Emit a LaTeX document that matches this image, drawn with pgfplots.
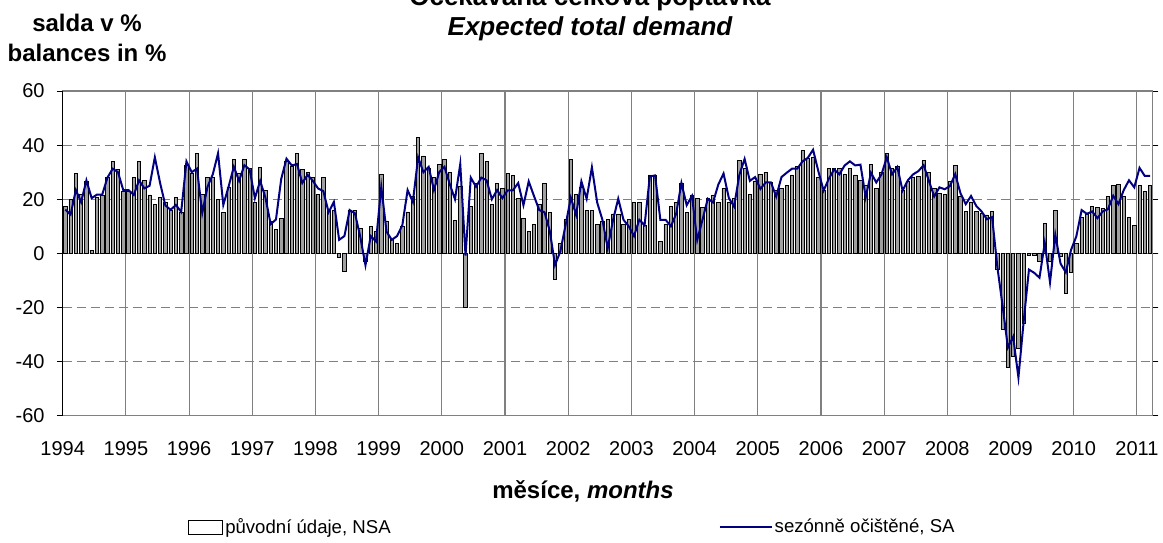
\documentclass[border=0pt]{standalone}
\usepackage{fontspec}
\setmainfont{Liberation Sans}
\usepackage{pgfplots}
\usepackage{pgfplotstable}
\pgfplotsset{compat=1.18}
\definecolor{navyline}{RGB}{0,0,128}
\definecolor{barfill}{RGB}{160,160,160}
\pgfplotstableread{
m nsa sa
0 17.3 16.2
1 20 14.3
2 29.7 23.4
3 21.8 18.9
4 26.7 27
5 1.2 20.4
6 20.6 21.7
7 21.6 21.7
8 28.2 28
9 34 31.3
10 31 30
11 23 23.4
12 23 23.4
13 28 21.6
14 34 27
15 27 24
16 21.6 25
17 18 35.5
18 20.8 26
19 18.8 17.7
20 16 16.1
21 20.8 17.9
22 15 15.3
23 32.7 34
24 29.7 30
25 37 31.3
26 21.8 14.9
27 28 24.6
28 28 29.2
29 20 37
30 15 17.9
31 24.5 24.6
32 34.8 32
33 29.7 26.8
34 34.8 32.6
35 31.3 31
36 18.8 20.4
37 31.8 26.8
38 23.3 20.6
39 12 10.8
40 9 12.5
41 13 27.5
42 34 35
43 32 32.5
44 37 33
45 31 26
46 30 29
47 28 26.8
48 21.7 24
49 28.2 23
50 15.9 15.2
51 15.9 19
52 -1.5 5
53 -6.5 6.4
54 16 16
55 16 14.8
56 9.2 6.2
57 -3 -4.4
58 10 6.4
59 8 4.4
60 29.2 24.6
61 12 8
62 5 5
63 3.8 6.4
64 10 10.4
65 15.3 23.4
66 21 19
67 43 35.5
68 36 30
69 31.6 32
70 28 23.4
71 33 30
72 34.8 32
73 30 25.6
74 12.2 20
75 24.6 33
76 -19.8 -0.8
77 17.3 28
78 26 24.6
79 37 28
80 34 27
81 18 20
82 26 23.4
83 24 20.4
84 29.6 23.3
85 28.8 23.3
86 20.2 26
87 13 17.8
88 8 26.6
89 10.7 21.2
90 18.2 16
91 26 15.2
92 15.2 8.3
93 -9.5 -4.3
94 3.7 0.7
95 12.4 10.4
96 34.8 20.6
97 21.8 14.2
98 24.5 26.6
99 16 20.2
100 16 31.8
101 10.7 18.8
102 12 12.4
103 12.4 1.9
104 14.6 12.2
105 14.6 20.2
106 10.7 12.4
107 12.4 10
108 18.8 6.4
109 18.8 12.4
110 10.4 10.4
111 29 28.4
112 28.8 28.8
113 4.3 12.4
114 10.7 12.4
115 17.2 10
116 18.8 14.6
117 26 26
118 15.2 17.8
119 21.6 21.2
120 20.2 4.9
121 17 12.4
122 20.2 20.2
123 21.6 18.8
124 18.8 25.4
125 24 29.5
126 19 20.5
127 20.4 17.3
128 34.3 29
129 31.3 34.9
130 21.7 26.8
131 26.8 28.2
132 29.2 23.8
133 30 26.2
134 26.2 26.2
135 23.2 21
136 24 28.2
137 25 29.8
138 29 31.3
139 32 31.3
140 37.9 34
141 35 35.3
142 35.6 38.3
143 28.2 30.4
144 23.4 23.2
145 31.3 27.6
146 31.3 31
147 31.3 29.2
148 29.2 32.5
149 31.3 34
150 29 32.5
151 27 32.8
152 25 20.7
153 32.8 29.8
154 24 26.2
155 29.8 29.2
156 37 35.5
157 31.3 29.2
158 32 31.9
159 23.4 23.2
160 26.8 27
161 28.2 29.2
162 28.5 30.4
163 34.3 32.6
164 30 26.8
165 24 21
166 22 24.4
167 21.7 23.7
168 26.5 24.9
169 32.4 29.3
170 21 22.2
171 15.5 18.2
172 19 21.2
173 15.5 17.5
174 14.8 15.5
175 14.2 12.6
176 15.5 13.4
177 -6 -5
178 -28 -19.5
179 -42 -34.8
180 -38 -30.8
181 -35 -45.9
182 -26 -25
183 -0.7 -6
184 -0.7 -7.2
185 -3 -9
186 11 3.8
187 -3 -10.7
188 16 6.9
189 -1 -3.8
190 -14.6 -7
191 -7.2 1.3
192 3.6 6.3
193 13.4 16
194 14.6 14.6
195 17.5 15.5
196 17 13
197 16.7 15.5
198 21.2 16.3
199 25 21.3
200 25.6 18.2
201 21.2 23.4
202 13.4 27
203 10.2 24.4
204 25 31.6
205 22.8 28.6
206 25 28.6
}\data
\begin{document}
\begin{tikzpicture}
\useasboundingbox (0,0) rectangle (581.5pt,-271pt);
\begin{axis}[
  at={(31.35pt,-207.85pt)}, anchor=south west,
  scale only axis, width=545pt, height=162.35pt,
  xmin=0, xmax=207, ymin=-60, ymax=60,
  clip=false,
  xtick={0,12,...,204},
  xticklabels={1994,1995,1996,1997,1998,1999,2000,2001,2002,2003,2004,2005,2006,2007,2008,2009,2010,2011},
  ytick={-60,-40,...,60},
  xmajorgrids, ymajorgrids,
  major x grid style={gray, line width=0.55pt},
  major y grid style={gray, dash pattern=on 4.5pt off 2.5pt, line width=0.55pt},
  extra y ticks={0}, extra y tick labels={},
  extra y tick style={grid=major, major grid style={black, solid, line width=0.6pt}},
  axis line style={gray, line width=0.6pt},
  xtick style={draw=none},
  ytick style={black, line width=0.5pt},
  tick align=outside, major tick length=2.85pt,
  tick label style={font=\fontsize{10}{12}\selectfont},
  /pgf/number format/assume math mode=true,
  yticklabel style={inner xsep=0pt, xshift=-6pt},
  xticklabel style={yshift=-6.5pt},
  legend columns=2,
  legend style={at={(0.1150,-0.3428)}, anchor=west, draw=none, fill=none,
    inner sep=0pt, font=\fontsize{9.3}{11}\selectfont,
    nodes={inner xsep=1pt, inner ysep=0pt},
    /tikz/every even column/.append style={column sep=163pt}},
  legend cell align=left,
]
\addplot[ybar, bar width=0.64, fill=barfill, draw=black, line width=0.35pt,
  legend image code/.code={\draw[fill=white,draw=black,line width=0.4pt] (0pt,-3.5pt) rectangle (17pt,3.5pt);}]
  table[x expr=\thisrow{m}+0.5, y=nsa]{\data};
\addlegendentry{původní údaje, NSA}
\addplot[navyline, line width=1pt, mark=none,
  legend image code/.code={\draw[navyline,line width=1pt] (0pt,0pt) -- (26pt,0pt);}]
  table[x expr=\thisrow{m}+0.5, y=sa]{\data};
\addlegendentry{sezónně očištěné, SA}
\draw[black, line width=0.6pt] (rel axis cs:0,0) -- (rel axis cs:0,1);
\end{axis}
\node[anchor=base, font=\bfseries\fontsize{13}{15}\selectfont, inner sep=0pt] at (295pt,-2.5pt) {Očekávaná celková poptávka};
\node[anchor=base, font=\bfseries\itshape\fontsize{13}{15}\selectfont, inner sep=0pt] at (295pt,-17.5pt) {Expected total demand};
\node[anchor=base, font=\bfseries\fontsize{12}{14}\selectfont, inner sep=0pt] at (43.5pt,-15.5pt) {salda v \%};
\node[anchor=base, font=\bfseries\fontsize{12}{14}\selectfont, inner sep=0pt] at (43.5pt,-30.5pt) {balances in \%};
\node[anchor=base, font=\bfseries\fontsize{12}{14}\selectfont, inner sep=0pt] at (291.5pt,-249pt) {měsíce, \textit{months}};
\end{tikzpicture}
\end{document}
